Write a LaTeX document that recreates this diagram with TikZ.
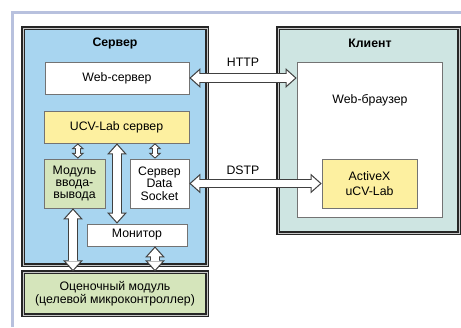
\documentclass[tikz,border=0pt]{standalone}
\usepackage{fontspec}
\setmainfont{Liberation Sans}
\usetikzlibrary{arrows.meta}
\definecolor{srvblue}{RGB}{168,213,240}
\definecolor{clteal}{RGB}{206,229,226}
\definecolor{ucvyellow}{RGB}{253,240,160}
\definecolor{modgreen}{RGB}{213,229,187}
\definecolor{framelav}{RGB}{184,193,222}
\tikzset{
  dbl/.style={draw=black!85,double=gray!45,double distance=0.8pt,line width=1pt},
  box/.style={draw=black!55,line width=0.6pt,inner sep=0pt,align=center,
    font=\fontsize{10.5}{10.5}\selectfont},
  fat/.style={draw=black!75,line width=8.5pt,
    {Triangle[length=9.5pt,width=17pt,line width=0pt]}-{Triangle[length=9.5pt,width=17pt,line width=0pt]},
    postaction={draw=white,line width=6.5pt,
      {Triangle[length=7pt,width=12.5pt,line width=0pt]}-{Triangle[length=7pt,width=12.5pt,line width=0pt]},
      shorten <=1.5pt,shorten >=1.5pt}},
  smallfat/.style={draw=black!75,line width=5.5pt,
    {Triangle[length=5pt,width=11pt,line width=0pt]}-{Triangle[length=5pt,width=11pt,line width=0pt]},
    postaction={draw=white,line width=3.7pt,
      {Triangle[length=2.9pt,width=6.3pt,line width=0pt]}-{Triangle[length=2.9pt,width=6.3pt,line width=0pt]},
      shorten <=1.2pt,shorten >=1.2pt}}
}

\begin{document}
\begin{tikzpicture}[x=0.3mm,y=-0.3mm]
  \useasboundingbox (0,0) rectangle (461,327);
  \draw[framelav,line width=2.6pt] (12.5,327) -- (12.5,12.5) -- (461,12.5);
  \draw[dbl,fill=srvblue] (23,28) rectangle (207,265);
  \draw[dbl,fill=clteal] (278,28) rectangle (459,233);
  \draw (115,43) node[font=\fontsize{10.5}{12}\bfseries] {Сервер};
  \draw (370,43) node[font=\fontsize{10.5}{12}\bfseries] {Клиент};

  \node[box,fill=white,minimum width=43.2mm,minimum height=9.6mm] (websrv) at (117,78) {Web-сервер};
  \node[box,fill=ucvyellow,minimum width=43.5mm,minimum height=9.6mm] (ucv) at (116.5,127) {UCV-Lab сервер};
  \node[box,fill=modgreen,minimum width=18.3mm,minimum height=14.7mm] (modul) at (74.5,183.5) {Модуль\\ввода-\\вывода};
  \node[box,fill=white,minimum width=17.7mm,minimum height=14.7mm] (socket) at (159.5,183.5) {Сервер\\Data\\Socket};
  \node[box,fill=white,minimum width=30mm,minimum height=6.6mm] (monitor) at (137,235) {Монитор};
  \node[dbl,fill=modgreen,minimum width=55.2mm,minimum height=12.9mm,inner sep=0pt,align=center,
    font=\fontsize{10.5}{11.5}\selectfont] (eval) at (115,293.5) {Оценочный модуль\\(целевой микроконтроллер)};

  \node[box,fill=white,minimum width=43.5mm,minimum height=46.5mm] (browser) at (369.5,139.5) {};
  \draw (370,100) node[font=\fontsize{10.5}{12}\selectfont] {Web-браузер};
  \node[box,fill=ucvyellow,minimum width=28.5mm,minimum height=14.7mm,
    font=\fontsize{10.5}{12.5}\selectfont] (activex) at (369.5,183.5) {ActiveX\\uCV-Lab};

  \draw[fat] (websrv.east) -- (websrv.east -| browser.west);
  \draw[fat] (socket.east) -- (activex.west);
  \draw (243,62) node[font=\fontsize{10.5}{12}\selectfont] {HTTP};
  \draw (243,170) node[font=\fontsize{10.5}{12}\selectfont] {DSTP};

  \draw[smallfat] ([xshift=1mm]modul.north) -- ([xshift=1mm]modul.north |- ucv.south);
  \draw[smallfat] ([xshift=-1.35mm]socket.north) -- ([xshift=-1.35mm]socket.north |- ucv.south);
  \draw[fat] ([xshift=-6mm]monitor.north) -- ([xshift=-6mm]monitor.north |- ucv.south);
  \draw[fat] ([xshift=-0.45mm]modul.south) -- ([xshift=-0.45mm]modul.south |- eval.north);
  \draw[fat] ([xshift=5.4mm]monitor.south) -- ([xshift=5.4mm]monitor.south |- eval.north);
\end{tikzpicture}
\end{document}
